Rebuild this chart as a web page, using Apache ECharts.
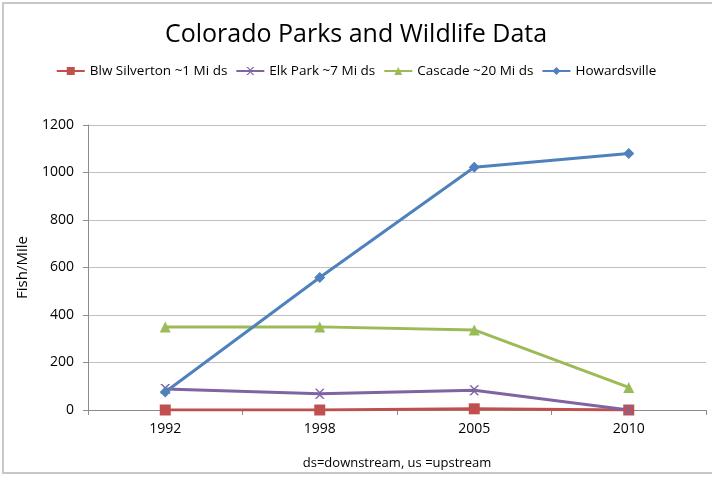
<!DOCTYPE html>
<html>
<head>
<meta charset="utf-8">
<script src="https://cdn.jsdelivr.net/npm/echarts@6/dist/echarts.min.js"></script>
<style>
  html, body { margin: 0; padding: 0; background: #fff; }
  #echarts { width: 712px; height: 477px; }
</style>
</head>
<body>
<div id="echarts"></div>
<script>
var years = ['1992', '1998', '2005', '2010'];
var silverton = [0, 0, 5, 0];
var elkPark = [88, 68, 83, 0];
var cascade = [350, 350, 337, 95];
var howardsville = [76, 558, 1022, 1080];
var yTicks = [0, 200, 400, 600, 800, 1000, 1200];

var xMark = 'path://M0,0 L2,0 L5,3 L8,0 L10,0 L6,4 L6,6 L10,10 L8,10 L5,7 L2,10 L0,10 L4,6 L4,4 Z';
var font = "'Open Sans', 'Liberation Sans', sans-serif";

var myChart = echarts.init(document.getElementById('echarts'));

function lineSeries(name, data, color, symbol, size) {
    return {
        name: name,
        type: 'line',
        data: data,
        symbol: symbol,
        symbolSize: size,
        showAllSymbol: true,
        lineStyle: { color: color, width: 3 },
        itemStyle: { color: color },
        emphasis: { disabled: true }
    };
}

var option = {
    animation: false,
    textStyle: { fontFamily: font },
    title: {
        text: 'Colorado Parks and Wildlife Data',
        left: 'center',
        top: 17,
        textStyle: { fontSize: 25, fontWeight: 'normal', color: '#000', fontFamily: font }
    },
    legend: {
        top: 59,
        left: 'center',
        itemGap: 8,
        itemWidth: 28,
        itemHeight: 10,
        textStyle: { fontSize: 13.5, color: '#000', fontFamily: font },
        data: ['Blw Silverton ~1 Mi ds', 'Elk Park ~7 Mi ds', 'Cascade ~20 Mi ds', 'Howardsville']
    },
    grid: { left: 88, right: 6, top: 125, bottom: 67 },
    xAxis: {
        type: 'category',
        data: years,
        boundaryGap: true,
        name: 'ds=downstream, us =upstream',
        nameLocation: 'middle',
        nameGap: 47,
        nameTextStyle: { fontSize: 13, color: '#000' },
        axisLine: { lineStyle: { color: '#8c8c8c' } },
        axisTick: { show: true, length: 5, lineStyle: { color: '#8c8c8c' } },
        axisLabel: { fontSize: 14, color: '#000', margin: 12 }
    },
    yAxis: {
        type: 'value',
        min: yTicks[0],
        max: yTicks[yTicks.length - 1],
        interval: 200,
        name: 'Fish/Mile',
        nameLocation: 'middle',
        nameGap: 58,
        nameTextStyle: { fontSize: 15, color: '#000' },
        axisLine: { show: true, lineStyle: { color: '#8c8c8c' } },
        axisTick: { show: true, length: 5, lineStyle: { color: '#8c8c8c' } },
        axisLabel: { fontSize: 14, color: '#000', margin: 14, formatter: function (v) { return String(v); } },
        splitLine: { lineStyle: { color: '#bfbfbf', width: 1 } }
    },
    series: [
        lineSeries('Blw Silverton ~1 Mi ds', silverton, '#C0504D', 'rect', 11),
        lineSeries('Elk Park ~7 Mi ds', elkPark, '#8064A2', xMark, 10),
        lineSeries('Cascade ~20 Mi ds', cascade, '#9BBB59', 'triangle', 11),
        lineSeries('Howardsville', howardsville, '#4F81BD', 'diamond', 11)
    ],
    graphic: [{
        type: 'rect',
        shape: { x: 3, y: 3, width: 712, height: 470 },
        style: { fill: 'none', stroke: '#c8c8c8', lineWidth: 2 },
        silent: true
    }]
};
myChart.setOption(option);
</script>
</body>
</html>
